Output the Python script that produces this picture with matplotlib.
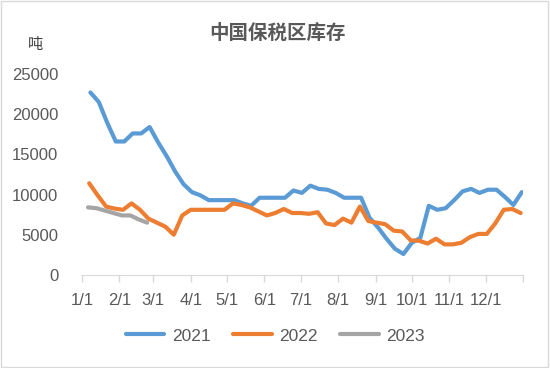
import pandas as pd
import matplotlib
matplotlib.use("Agg")
import matplotlib.pyplot as plt
from matplotlib.patches import Rectangle

plt.rcParams['font.family'] = ['Liberation Sans', 'Noto Sans CJK SC']

# weekly inventory (tons), first Friday of each year
start_2021 = "2021-01-08"
start_2022 = "2022-01-07"
start_2023 = "2023-01-06"

stock_2021 = [22700, 21500, 18900, 16600, 16600, 17600, 17600, 18400, 16500, 14800,
              12900, 11300, 10300, 9900, 9300, 9300, 9300, 9300, 8900, 8600,
              9600, 9600, 9600, 9600, 10500, 10200, 11100, 10700, 10600, 10200,
              9600, 9600, 9600, 7100, 5900, 4500, 3250, 2600, 4000, 4600,
              8600, 8100, 8300, 9300, 10400, 10700, 10200, 10600, 10600, 9700,
              8700, 10300]
stock_2022 = [11400, 9900, 8500, 8250, 8100, 8900, 8100, 7000, 6500, 6000,
              5000, 7400, 8100, 8100, 8100, 8100, 8100, 8900, 8700, 8400,
              7900, 7400, 7700, 8200, 7700, 7700, 7600, 7800, 6400, 6200,
              7000, 6500, 8500, 6700, 6500, 6300, 5500, 5400, 4300, 4250,
              3900, 4500, 3800, 3800, 4000, 4700, 5100, 5100, 6400, 8100,
              8200, 7700]
stock_2023 = [8400, 8300, 8000, 7700, 7400, 7400, 6900, 6500]

month_labels = ['1/1', '2/1', '3/1', '4/1', '5/1', '6/1', '7/1', '8/1',
                '9/1', '10/1', '11/1', '12/1']

series = [
    ('2021', start_2021, stock_2021, '#5B9BD5'),
    ('2022', start_2022, stock_2022, '#ED7D31'),
    ('2023', start_2023, stock_2023, '#A5A5A5'),
]

fig = plt.figure(figsize=(5.5, 3.68), dpi=100)
ax = fig.add_axes([0.149, 0.253, 0.802, 0.546])

for name, start, vals, color in series:
    dates = pd.date_range(start, periods=len(vals), freq='7D')
    x = dates.dayofyear - 1
    ax.plot(x, vals, color=color, lw=3, label=name, solid_capstyle='round',
            solid_joinstyle='round')

# month ticks on a common (non-leap) year
month_starts = pd.date_range('2021-01-01', periods=13, freq='MS').dayofyear - 1
month_starts = list(month_starts[:12]) + [365]
ax.set_xlim(0, 365)
ax.set_ylim(0, 25000)
ax.set_xticks(month_starts)
ax.set_xticklabels(month_labels + [''])
ax.set_yticks(range(0, 25001, 5000))

for s in ['top', 'right', 'left']:
    ax.spines[s].set_visible(False)
ax.spines['bottom'].set_color('#D9D9D9')
ax.tick_params(axis='x', colors='#D9D9D9', length=5, width=1, labelcolor='#595959',
               labelsize=12, pad=8)
ax.tick_params(axis='y', length=0, labelcolor='#595959', labelsize=12, pad=17)

fig.text(0.504, 0.91, '中国保税区库存', ha='center', va='center',
         fontsize=14, fontweight='bold', color='#595959')
fig.text(0.065, 0.878, '吨', ha='center', va='center', fontsize=11, color='#404040')

leg = fig.legend(loc='center', bbox_to_anchor=(0.501, 0.087), ncol=3, frameon=False,
                 fontsize=12.5, handlelength=2.2, handletextpad=0.45, columnspacing=1.3)
for t in leg.get_texts():
    t.set_color('#595959')

fig.patches.append(Rectangle((0.002, 0.003), 0.995, 0.994, transform=fig.transFigure,
                             fill=False, edgecolor='#D9D9D9', lw=1))

fig.savefig('out.png', dpi=100)
